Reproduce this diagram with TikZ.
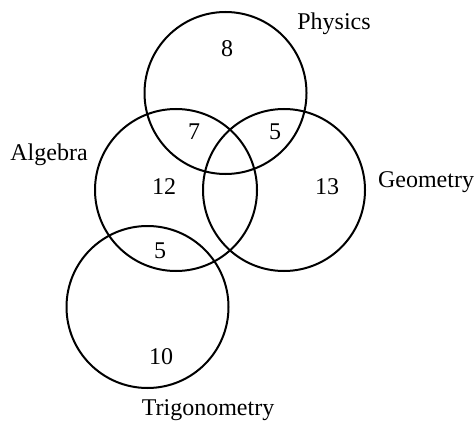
\documentclass[tikz,border=0pt]{standalone}
\usepackage{fontspec}
\setmainfont{Liberation Serif}
\usepackage{tikz}
\usetikzlibrary{positioning}
\tikzset{
    set/.style={circle, draw=black, line width=1pt, minimum size=81pt, inner sep=0pt},
    count/.style={font=\fontsize{12}{14}\selectfont},
    setname/.style={font=\fontsize{12}{14}\selectfont}
}

\begin{document}
\begin{tikzpicture}[x=0.5pt, y=-0.5pt]
  \useasboundingbox (0,0) rectangle (475,422);
  \node[set] (phys) at (225.5,93)  {};
  \node[set] (alg)  at (176,190)   {};
  \node[set] (geo)  at (284,190)   {};
  \node[set] (trig) at (147.5,307) {};

  \node[count] (n8)  at (227,49)  {8};
  \node[count] (n7)  at (194,132) {7};
  \node[count] (n5a) at (275,132) {5};
  \node[count] (n12) at (164,187) {12};
  \node[count] (n13) at (327,187) {13};
  \node[count] (n5b) at (160,251) {5};
  \node[count] (n10) at (161,357) {10};

  \node[setname] (lphys) at (334,24)  {Physics};
  \node[setname] (lalg)  at (49,155)  {Algebra};
  \node[setname] (lgeo)  at (426,182) {Geometry};
  \node[setname] (ltrig) at (208,410) {Trigonometry};
\end{tikzpicture}
\end{document}
